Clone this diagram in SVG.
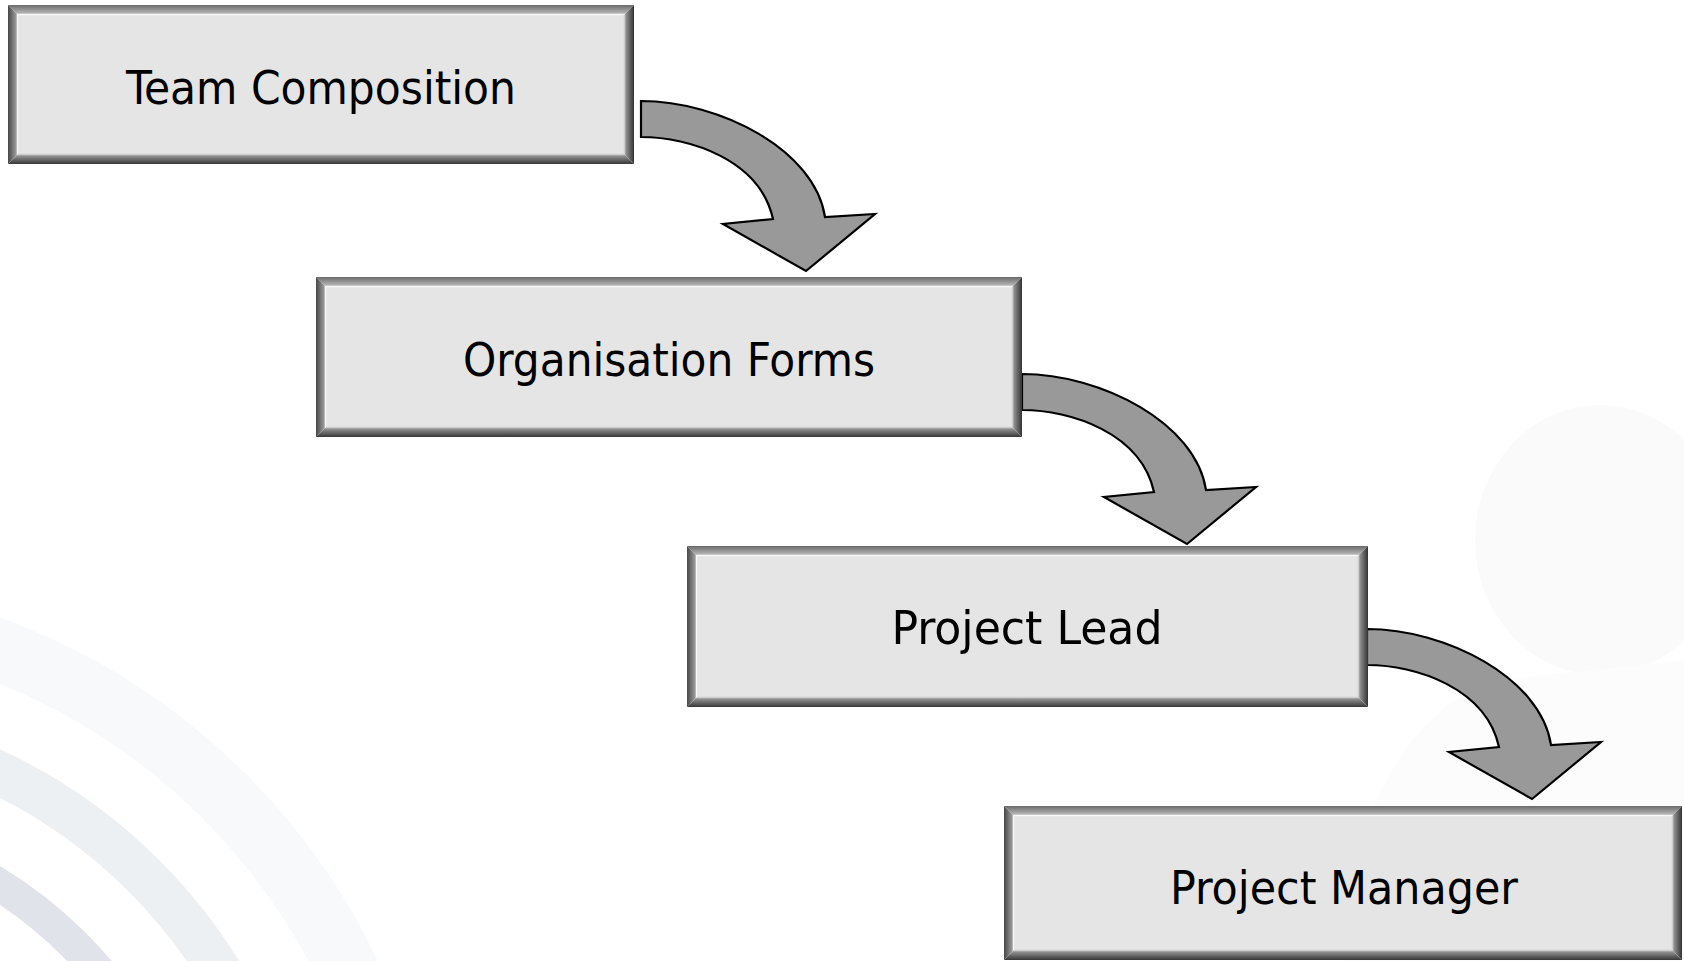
<svg xmlns="http://www.w3.org/2000/svg" width="1684" height="961" viewBox="0 0 1684 961">
  <defs>
    <linearGradient id="gTop" x1="0" y1="0" x2="0" y2="1">
      <stop offset="0" stop-color="#6a6a6a"/>
      <stop offset="1" stop-color="#bcbcbc"/>
    </linearGradient>
    <linearGradient id="gLeft" x1="0" y1="0" x2="1" y2="0">
      <stop offset="0" stop-color="#474747"/>
      <stop offset="1" stop-color="#a4a4a4"/>
    </linearGradient>
    <linearGradient id="gRight" x1="0" y1="0" x2="1" y2="0">
      <stop offset="0" stop-color="#9c9c9c"/>
      <stop offset="1" stop-color="#333333"/>
    </linearGradient>
    <linearGradient id="gBot" x1="0" y1="0" x2="0" y2="1">
      <stop offset="0" stop-color="#9c9c9c"/>
      <stop offset="1" stop-color="#363636"/>
    </linearGradient>
    <path id="curvedArrow" d="M0,0 C79,0 174,49 184,116 L234,113 L165,170 L82,123 L132,118 C119,59 49,36 0,36 Z"/>
  </defs>
  <style>
    .bt { fill: url(#gTop); }
    .bl { fill: url(#gLeft); }
    .br { fill: url(#gRight); }
    .bb { fill: url(#gBot); }
    .face { fill: #e5e5e5; }
    .hi { fill: none; stroke: #f8f8f8; stroke-width: 1.5; }
    .lo { fill: none; stroke: #cdcdcd; stroke-width: 1.5; }
    .label { font-family: "DejaVu Sans Condensed", "DejaVu Sans", "Liberation Sans", sans-serif; font-size: 47px; fill: #000000; text-anchor: middle; }
    .arrow { fill: #999999; stroke: #000000; stroke-width: 2.2; stroke-linejoin: miter; }
  </style>

  <rect width="1684" height="961" fill="#ffffff"/>

  <g id="background">
    <circle cx="-230" cy="1250" r="642" fill="none" stroke="#f8f9fa" stroke-width="62"/>
    <circle cx="-230" cy="1250" r="529" fill="none" stroke="#edf0f3" stroke-width="44"/>
    <circle cx="-230" cy="1250" r="431" fill="none" stroke="#e0e4ea" stroke-width="33"/>
    <ellipse cx="1600" cy="540" rx="125" ry="135" fill="#fafafb"/>
    <path d="M1340,961 C1350,800 1420,700 1500,680 L1684,660 L1684,961 Z" fill="#fcfcfc"/>
  </g>

  <g id="connectors">
    <use href="#curvedArrow" class="arrow" transform="translate(641,101)"/>
    <use href="#curvedArrow" class="arrow" transform="translate(1022,374)"/>
    <use href="#curvedArrow" class="arrow" transform="translate(1367,629)"/>
  </g>

  <g id="node-team-composition">
    <polygon class="bt" points="8,5 634,5 625,14 17,14"/>
    <polygon class="bl" points="8,5 17,14 17,155 8,164"/>
    <polygon class="br" points="634,5 634,164 625,155 625,14"/>
    <polygon class="bb" points="8,164 17,155 625,155 634,164"/>
    <rect class="face" x="17" y="14" width="608" height="141"/>
    <polyline class="hi" points="17.5,155 17.5,14.5 625,14.5"/>
    <polyline class="lo" points="17.5,154.5 624.5,154.5 624.5,14.5"/>
    <text class="label" x="321" y="104" textLength="390" lengthAdjust="spacingAndGlyphs">Team Composition</text>
  </g>

  <g id="node-organisation-forms">
    <polygon class="bt" points="316,277 1022,277 1013,286 325,286"/>
    <polygon class="bl" points="316,277 325,286 325,428 316,437"/>
    <polygon class="br" points="1022,277 1022,437 1013,428 1013,286"/>
    <polygon class="bb" points="316,437 325,428 1013,428 1022,437"/>
    <rect class="face" x="325" y="286" width="688" height="142"/>
    <polyline class="hi" points="325.5,428 325.5,286.5 1013,286.5"/>
    <polyline class="lo" points="325.5,427.5 1012.5,427.5 1012.5,286.5"/>
    <text class="label" x="669" y="376" textLength="412" lengthAdjust="spacingAndGlyphs">Organisation Forms</text>
  </g>

  <g id="node-project-lead">
    <polygon class="bt" points="687,546 1368,546 1359,555 696,555"/>
    <polygon class="bl" points="687,546 696,555 696,698 687,707"/>
    <polygon class="br" points="1368,546 1368,707 1359,698 1359,555"/>
    <polygon class="bb" points="687,707 696,698 1359,698 1368,707"/>
    <rect class="face" x="696" y="555" width="663" height="143"/>
    <polyline class="hi" points="696.5,698 696.5,555.5 1359,555.5"/>
    <polyline class="lo" points="696.5,697.5 1358.5,697.5 1358.5,555.5"/>
    <text class="label" x="1027" y="644" textLength="271" lengthAdjust="spacingAndGlyphs">Project Lead</text>
  </g>

  <g id="node-project-manager">
    <polygon class="bt" points="1004,806 1682,806 1673,815 1013,815"/>
    <polygon class="bl" points="1004,806 1013,815 1013,951 1004,960"/>
    <polygon class="br" points="1682,806 1682,960 1673,951 1673,815"/>
    <polygon class="bb" points="1004,960 1013,951 1673,951 1682,960"/>
    <rect class="face" x="1013" y="815" width="660" height="136"/>
    <polyline class="hi" points="1013.5,951 1013.5,815.5 1673,815.5"/>
    <polyline class="lo" points="1013.5,950.5 1672.5,950.5 1672.5,815.5"/>
    <text class="label" x="1344" y="904" textLength="348" lengthAdjust="spacingAndGlyphs">Project Manager</text>
  </g>
</svg>
